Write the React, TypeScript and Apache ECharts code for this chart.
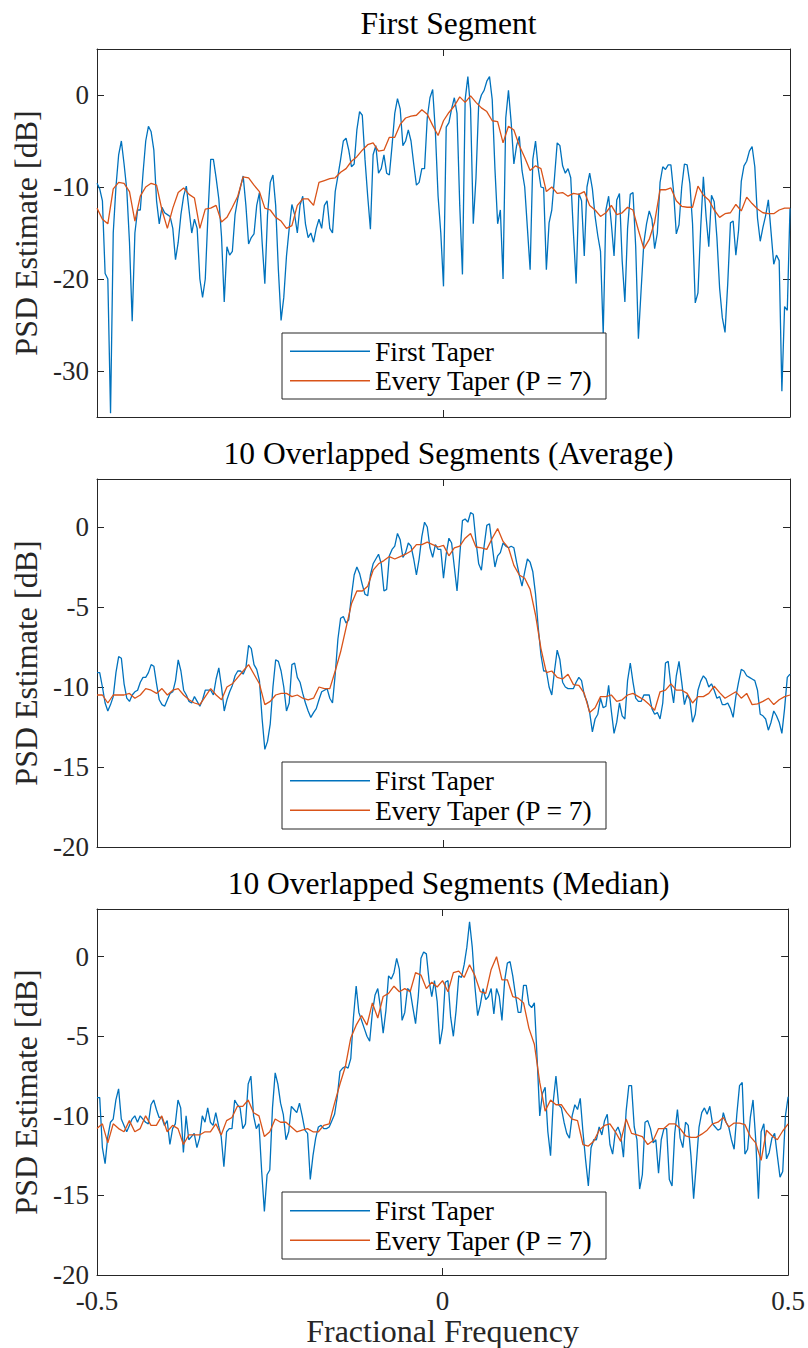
import React, { useEffect, useRef } from "react";
import * as echarts from "echarts";

// Frequency grids (uniform bins)
const blueFreq = Array.from({ length: 257 }, (_, i) => -0.5 + i / 256);
const orangeFreq = Array.from({ length: 129 }, (_, j) => -0.5 + j / 128);

const titles = ["First Segment", "10 Overlapped Segments (Average)", "10 Overlapped Segments (Median)"];
const seriesNames = ["First Taper", "Every Taper (P = 7)"];
const xTickValues = [-0.5, 0, 0.5];
const yTicks1 = [-30, -20, -10, 0];
const yTicks23 = [-20, -15, -10, -5, 0];
const yRange1 = [-35, 5];
const yRange23 = [-20, 3];

// Plot 1: First Segment
const p1Blue = [
  -9.6, -10.2, -11.5, -19.4, -20, -34.6, -15, -10, -6.5, -5,
  -7.5, -10.3, -16, -24.6, -15, -12.5, -12.5, -8.5, -5, -3.4,
  -4, -6, -11.5, -14, -12.2, -12.8, -13, -13.2, -14.5, -17.9,
  -16, -13, -11, -9.9, -12.5, -15, -13.5, -14.5, -20, -22,
  -20, -13, -7, -7, -9, -11.3, -15.4, -22.5, -16.5, -17.4,
  -17, -13, -11.3, -10, -8.8, -12, -16.2, -15.5, -15.1, -12,
  -10.6, -16, -20.5, -13, -9.5, -8.7,
  -12, -19, -24.5, -22, -17.5, -14.5, -11.9, -13, -15, -12,
  -11, -14, -15.5, -15, -16, -14.5, -13.5, -14.5, -12, -11.5,
  -14.5, -15, -10.5, -8.8, -7, -5, -4.7, -6, -7.8, -7.5,
  -3.8, -1.8, -2.2, -7, -11, -14.6, -6.5, -5.5, -8.5, -8,
  -6.5, -8.5, -8.7, -5.5, -2, -0.4, -1.5, -5.5, -5, -3.8,
  -5, -7.5, -9.8, -9.5, -8, -8, -2.5, -0.3, 0.6, -4,
  -11, -15, -20.8, -3.5, -3,
  -1.5, -0.3, -2, -12, -19.5, -0.5, 2, -1.5, -14, -9,
  -1, 0, 0.5, 1.5, 2, -0.5, -8, -14, -12.5, -20,
  -2.5, 0.5, -3, -7.5, -5.5, -4.5, -8.2, -10, -14.5, -19,
  -7, -5, -8, -10, -10.1, -19, -13.9, -12.5, -9, -5.2,
  -5.5, -7.7, -8.5, -8, -9, -15, -20.5, -10.7, -11.5, -17.5,
  -10, -8.5, -10.2, -13.2, -15.3, -17, -26, -12.5, -11, -14,
  -17.5, -11.4, -10.7,
  -18, -22.5, -14.5, -10.8, -10.6, -16.5, -26.5, -21.2, -16.1, -14,
  -12.6, -13.5, -16.7, -15, -9.5, -7.8, -8.1, -7.6, -7.6, -10.5,
  -15.1, -14.1, -10, -7.5, -7.6, -9.6, -14, -22.6, -21.5, -14.5,
  -8.9, -13.2, -16.5, -10.9, -11.6, -15.5, -21, -24.2, -25.8, -20.5,
  -13.9, -13.7, -17.4, -14.7, -9.4, -7.7, -7.2, -6.1, -5.6, -7.8,
  -13.4, -15.9, -14.4, -13.1, -11.4, -14.9, -18.4, -17.4, -18, -32.2,
  -23, -23.4, -12.3,
];
const p1Orange = [
  -12.3, -13.5, -14, -10.2, -9.5, -9.6, -10.5, -13.7, -11, -10,
  -9.6, -9.8, -12.5, -14.5, -12.3, -10.6, -10.1, -10.8, -11.2, -14.5,
  -12.4, -12.3, -12, -13.8, -13.3, -12.2, -11, -8.9, -9, -9.8,
  -10.5, -12.3, -12.5,
  -13.3, -13.7, -14.5, -14.2, -12, -11.3, -11.3, -12, -9.5, -9.3,
  -9.1, -9, -8.4, -8, -7.2, -6.7, -6, -5.4, -5.2, -6.1,
  -6, -4.6, -4.6, -3.2, -2.5, -2.3, -2.2, -1.6, -2.1, -3.3,
  -4.4, -2.8, -1.9,
  -1.2, -0.2, -0.8, -0.1, -0.8, -1.4, -1.8, -2.8, -2.9, -5.2,
  -3.4, -3.8, -5.5, -6.8, -8.2, -7.7, -8, -10.5, -10, -10.7,
  -10.6, -11, -10.7, -10.8, -10.5, -12, -12.5, -13.2, -12.8, -12, -13,
  -12.8, -12.2, -12.5, -14.7, -16.7, -15.7, -13.8, -10.3, -10.3, -10.1,
  -11.5, -12.1, -12.2, -12.2, -9.9, -10.9, -11.4, -12.5, -13.3, -12.9,
  -12.8, -11.9, -12.6, -11.1, -11.8, -12.4, -12.8, -12.9, -12.9, -12.5, -12.3, -12.3,
];

// Plot 2: 10 Overlapped Segments (Average)
const p2Blue = [
  -9.1, -9.1, -10, -11, -11.5, -11.1, -10.6, -9.1, -8.1, -8.2,
  -9.8, -10.7, -10.9, -10.5, -10.3, -10.2, -9.7, -9.4, -9.4, -9.1,
  -8.6, -8.7, -9.8, -10.8, -11.1, -11.2, -10.8, -10.4, -10.3, -9.6,
  -8.3, -9, -10.2, -10.5, -10.9, -11, -10.6, -10.9, -11.2, -10.8,
  -10.2, -10.2, -10.2, -10.5, -9.5, -8.8, -10, -11.5, -10.8, -10.3,
  -9.9, -9.3, -9, -9, -9.2, -8.8, -7.4, -7.6, -8.6, -8.9,
  -9.6, -12, -13.9, -13.4, -12.3, -10,
  -8.3, -8.4, -9, -10, -11.5, -11, -8.6, -8.5, -9.4, -9.7,
  -10.4, -11, -11.5, -11.9, -11.6, -11.35, -10.8, -10.3, -10.2, -10.1,
  -10.7, -11, -9.2, -7, -5.7, -5.6, -6, -5.8, -4.3, -3,
  -2.5, -2.9, -3.6, -4.2, -4.3, -3, -2.3, -2, -1.7, -2.3,
  -4, -3.9, -1.8, -1.4, -1.2, -0.4, -0.8, -1.9, -1.6, -1,
  -1.2, -2, -3, -2, -0.6, 0.3, 0, -1.3, -1.9, -1.1,
  -1.4, -1.4, -3.2, -1.7, -0.7,
  -1, -2.5, -4, -1.8, 0.4, 0.5, 0.3, 0.9, 0.8, -0.9,
  -2.3, -2.7, -1.2, 0.1, 0.2, -1.2, -2.5, -1.8, -1.6, -1,
  -1.2, -1.3, -1.2, -1.3, -2.2, -3, -3.7, -2.8, -2, -2.2,
  -2.8, -4.2, -6.3, -8, -9, -9, -10, -10.5, -9, -7.7,
  -8.3, -9.7, -10, -10.1, -10.1, -10.1, -9.7, -9.4, -9.6, -10.5,
  -10.9, -11.6, -12.8, -12, -11.7, -10.7, -11.3, -11.2, -9.9, -11.5,
  -12.9, -12.2, -11,
  -11.8, -12, -9.6, -8.5, -9.7, -10.7, -10.9, -10.9, -10.5, -10.5,
  -10.5, -11.35, -11.7, -11.6, -12, -11, -8.5, -8.4, -9.9, -11,
  -9.3, -8.4, -9.7, -11.1, -10.5, -10.8, -12.2, -11.7, -10.2, -9.65,
  -9.3, -9.5, -10, -9.8, -10.2, -10.7, -10.6, -11.1, -11.1, -11,
  -11.35, -11.9, -10.6, -9.7, -8.9, -9, -9.3, -9.4, -9.5, -9.6,
  -10.2, -11.7, -11.8, -12, -12.7, -12.2, -11.5, -11.8, -12.2, -12.9,
  -11.35, -9.4, -9.2,
];
const p2Orange = [
  -10.5, -10.5, -11, -10.5, -10.5, -10.5, -10.4, -10.7, -10.5, -10.1,
  -10.2, -10.4, -10.1, -10.5, -10.2, -10.1, -10.5, -10.8, -11, -11.1,
  -10.6, -10.1, -10.5, -10.8, -10, -9.8, -9.4, -9, -8.6, -9.2,
  -9.8, -11.1, -10.9,
  -10.5, -10.4, -10.4, -10.6, -10.5, -10.7, -10.8, -10.7, -10, -10.1,
  -10.1, -9, -7.8, -6.3, -4.8, -4, -4, -3.7, -2.7, -2.3,
  -2.1, -1.85, -2, -1.85, -1.7, -1.5, -1.1, -1.1, -0.95, -1.1,
  -1.25, -1.15, -1.8,
  -1.3, -1.2, -0.7, -0.4, -1.25, -1.3, -1.4, -0.7, -0.1, -0.9,
  -1.3, -2.4, -3, -3.2, -3.9, -5.5, -7.6, -9.1, -9, -9.4,
  -9.5, -9.2, -9.85, -9.9, -10.4, -11.6, -11.3, -10.6, -10.6, -10.5, -10.9,
  -10.8, -10.5, -10.4, -10.6, -10.8, -11.1, -11.45, -10.3, -10.2, -9.8,
  -10.2, -10.2, -10.4, -11, -10.6, -10.6, -10.4, -9.95, -10.35, -10.7,
  -10.5, -10.3, -10.7, -10.4, -11.1, -11.05, -10.9, -10.7, -11.1, -10.8, -10.6, -10.5,
];

// Plot 3: 10 Overlapped Segments (Median)
const p3Blue = [
  -8.85, -8.85, -12, -13, -11.3, -10.4, -10.2, -9, -8.3, -10.2,
  -10.6, -11, -10.6, -10.2, -10, -10.4, -10, -10.2, -10.4, -10.5,
  -9.3, -9, -9.6, -10.1, -10.1, -10.6, -10.3, -11.8, -10.8, -10.5,
  -9, -9.5, -12.3, -10, -11.5, -11.3, -11.1, -12, -11.4, -10,
  -10.4, -9.5, -10.4, -10.6, -9.8, -10.6, -11.3, -13.2, -11, -10.8,
  -10.8, -9, -9.3, -9.5, -10.8, -10.5, -8, -7.5, -10, -10.8,
  -10.5, -13.5, -16, -13.7, -13.4, -9.5,
  -7.3, -8, -9.2, -9.9, -11.5, -11, -9.4, -9.6, -9.8, -9.2,
  -10, -10.9, -11.1, -14, -12.5, -11.4, -10.7, -10.6, -10.8, -10.8,
  -10.7, -10.3, -9.9, -8.8, -7.2, -7, -6.9, -7, -6.4, -3.8,
  -1.85, -3.5, -4, -4.5, -5, -5.3, -3.5, -2.4, -2, -3.2,
  -4.8, -3.4, -1.2, -1.4, -1, -0.1, -0.8, -4, -3.5, -2,
  -2.15, -3.2, -4.2, -2.5, -0.1, 0.3, 0.18, -1.5, -2.5, -1.5,
  -2.8, -5.5, -4.5, -1.6, -1.5,
  -3.8, -5, -3.4, -1.2, -1.3, -0.5, 0.6, 2.2, 0.6, -1.9,
  -3.7, -3, -2, -2.7, -2.5, -2, -3.6, -2, -2.5, -4,
  -1.5, -0.4, -0.3, -1.2, -2.4, -3.5, -3.5, -1.8, -1.8, -3,
  -3.2, -2.9, -6.3, -10, -8.6, -8.2, -11, -12.5, -9.1, -7.5,
  -9.3, -9.5, -10.4, -11.1, -11.4, -10, -9.3, -9.6, -8.9, -11,
  -12.8, -14.4, -12, -11.5, -11.5, -10.7, -11.2, -10.3, -9.9, -11.8,
  -12.4, -11, -10.7,
  -11.2, -12.6, -9.7, -8.1, -8.1, -10.7, -11.5, -14.6, -13.7, -10.4,
  -10.3, -10.8, -11.7, -11.5, -13.6, -11.5, -10.8, -10.8, -14, -14.4,
  -11.1, -9.6, -11.4, -12, -10.4, -10.6, -12.5, -15.2, -13, -10.7,
  -9.8, -9.5, -9.9, -9.4, -10.5, -10.7, -10.9, -10.8, -9.8, -10.4,
  -10.7, -11.5, -12.1, -9.9, -8.1, -7.9, -12.4, -12.1, -10.1, -9,
  -11.5, -15.2, -11, -10.5, -12.7, -12.3, -11.4, -11.1, -12.5, -13.85,
  -13.5, -10, -8.8,
];
const p3Orange = [
  -10.8, -10.5, -11.7, -10.5, -10.8, -11, -10.3, -11, -10.8, -10,
  -10.6, -10.6, -10, -11, -10.6, -10.8, -11.8, -11.2, -11.2, -11.2,
  -11, -11, -10.5, -11.2, -10.3, -10.1, -9.4, -9.4, -9, -9.8,
  -10, -11.3, -11,
  -10.2, -10.4, -10.4, -10.7, -11, -10.9, -10.8, -11, -11, -10.6,
  -10.5, -9.2, -8, -6.9, -5.1, -4.3, -3.7, -4.3, -2.9, -3.85,
  -2.5, -2.3, -1.85, -2.2, -2, -2.2, -1, -1.15, -2, -1.6,
  -1.9, -1.5, -2.2,
  -1, -0.9, -1.3, -0.5, -1.2, -2.2, -2.3, -0.8, 0, -1.45,
  -1.45, -2.5, -2.6, -2.9, -4.5, -5.5, -7.9, -9.7, -9, -9.3,
  -9.3, -9.8, -10.2, -10.3, -11.8, -11.9, -11.6, -10.9, -10.6, -10.5, -11,
  -11.6, -10.2, -11.1, -11.2, -11.3, -11.8, -11.55, -10.8, -10.8, -10.5,
  -10.5, -10.8, -11.25, -11.35, -11.35, -11.15, -10.9, -10.5, -10.4, -10.1,
  -10.7, -10.45, -10.45, -10.55, -11.3, -11.7, -12.8, -10.9, -11.25, -11.5, -10.95, -10.5,
];

const BLUE = "#0072BD";
const ORANGE = "#D95319";
const AXIS = "#262626";
const FONT = "Liberation Serif";

const GRID_LEFT = 97;
const GRID_W = 693;
const GRID_H = 368;
const gridTops = [49, 479, 909];
const legendBoxes = [
  { y: 333, h: 66 },
  { y: 762, h: 67 },
  { y: 1192, h: 67 },
];

export default function App() {
  const ref = useRef<HTMLDivElement>(null);

  useEffect(() => {
    if (!ref.current) return;
    const chart = echarts.init(ref.current, undefined, { renderer: "svg" });

    const blues = [p1Blue, p2Blue, p3Blue];
    const oranges = [p1Orange, p2Orange, p3Orange];
    const yRanges = [yRange1, yRange23, yRange23];
    const yTicks = [yTicks1, yTicks23, yTicks23];

    const grid: any[] = [];
    const xAxis: any[] = [];
    const yAxis: any[] = [];
    const series: any[] = [];
    const title: any[] = [];
    const legend: any[] = [];
    const graphic: any[] = [];

    const axisLine = { show: true, onZero: false, lineStyle: { color: AXIS, width: 1 } };
    const axisTick = { show: true, inside: true, length: 7, lineStyle: { color: AXIS, width: 1 } };

    for (let g = 0; g < 3; g++) {
      grid.push({ left: GRID_LEFT, top: gridTops[g], width: GRID_W, height: GRID_H, containLabel: false });
      const isBottom = g === 2;
      xAxis.push({
        gridIndex: g,
        type: "value",
        position: "bottom",
        min: -0.5,
        max: 0.5,
        interval: 0.5,
        axisLine,
        axisTick: { ...axisTick, customValues: xTickValues },
        splitLine: { show: false },
        axisLabel: {
          show: isBottom,
          customValues: xTickValues,
          margin: 12,
          color: AXIS,
          fontFamily: FONT,
          fontSize: 27,
          formatter: (v: number) => (v === 0 ? "0" : String(v)),
        },
        name: isBottom ? "Fractional Frequency" : "",
        nameLocation: "middle",
        nameGap: 40,
        nameTextStyle: { color: AXIS, fontFamily: FONT, fontSize: 32 },
      });
      xAxis.push({
        gridIndex: g,
        type: "value",
        position: "top",
        min: -0.5,
        max: 0.5,
        interval: 0.5,
        axisLine,
        axisTick: { ...axisTick, customValues: xTickValues },
        splitLine: { show: false },
        axisLabel: { show: false },
      });
      yAxis.push({
        gridIndex: g,
        type: "value",
        position: "left",
        min: yRanges[g][0],
        max: yRanges[g][1],
        axisLine,
        axisTick: { ...axisTick, customValues: yTicks[g] },
        splitLine: { show: false },
        axisLabel: {
          customValues: yTicks[g],
          margin: 8,
          color: AXIS,
          fontFamily: FONT,
          fontSize: 27,
        },
        name: "PSD Estimate [dB]",
        nameLocation: "middle",
        nameGap: 48,
        nameTextStyle: { color: AXIS, fontFamily: FONT, fontSize: 32 },
      });
      yAxis.push({
        gridIndex: g,
        type: "value",
        position: "right",
        min: yRanges[g][0],
        max: yRanges[g][1],
        axisLine,
        axisTick: { ...axisTick, customValues: yTicks[g] },
        splitLine: { show: false },
        axisLabel: { show: false },
      });

      series.push({
        name: seriesNames[0],
        type: "line",
        xAxisIndex: 2 * g,
        yAxisIndex: 2 * g,
        symbol: "none",
        showSymbol: false,
        lineStyle: { color: BLUE, width: 1.3 },
        itemStyle: { color: BLUE },
        data: blues[g].map((v, i) => [blueFreq[i], v]),
        z: 2,
      });
      series.push({
        name: seriesNames[1],
        type: "line",
        xAxisIndex: 2 * g,
        yAxisIndex: 2 * g,
        symbol: "none",
        showSymbol: false,
        lineStyle: { color: ORANGE, width: 1.3 },
        itemStyle: { color: ORANGE },
        data: oranges[g].map((v, i) => [orangeFreq[i], v]),
        z: 3,
      });

      title.push({
        text: titles[g],
        left: GRID_LEFT + GRID_W / 2,
        textAlign: "center",
        top: gridTops[g] - 47,
        textStyle: { color: "#000", fontFamily: FONT, fontSize: 31.5, fontWeight: "normal" },
      });

      const box = legendBoxes[g];
      graphic.push({
        type: "rect",
        shape: { x: 282, y: box.y, width: 324, height: box.h },
        style: { fill: "#fff", stroke: AXIS, lineWidth: 1 },
        z: 10,
      });
      legend.push({
        data: seriesNames,
        orient: "vertical",
        left: 290,
        top: box.y + box.h / 2 - 29.5,
        padding: 0,
        itemGap: 0,
        itemWidth: 80,
        itemHeight: 1.4,
        icon: "rect",
        selectedMode: false,
        textStyle: { color: "#000", fontFamily: FONT, fontSize: 27.5, lineHeight: 29.5 },
        z: 20,
      });
    }

    chart.setOption({
      animation: false,
      backgroundColor: "#fff",
      textStyle: { fontFamily: FONT },
      title,
      grid,
      xAxis,
      yAxis,
      series,
      legend,
      graphic,
    });

    return () => chart.dispose();
  }, []);

  return (
    <div
      ref={ref}
      style={{ position: "absolute", left: 0, top: 0, width: 808, height: 1348, background: "#fff" }}
    />
  );
}
